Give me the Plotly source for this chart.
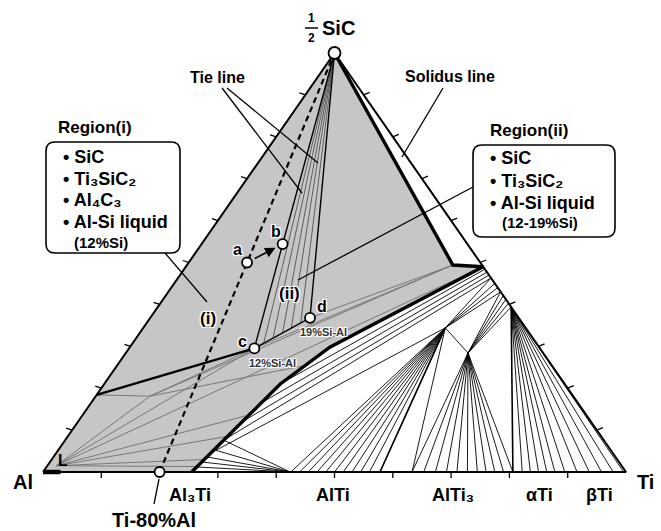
import plotly.graph_objects as go

W, H = 661, 531
X0, Y0, BASE, HGT = 43, 472, 583, 419   # Al corner (px), base length, apex height

FONT = "Liberation Sans, Arial, Helvetica, sans-serif"
GRAY_FILL = "#c6c6c6"
GRAY_LINE = "#787878"
HALO = "1px 1px 0 #fff, -1px -1px 0 #fff, 1px -1px 0 #fff, -1px 1px 0 #fff, 0 0 3px #fff"

# ---- compositions in at.% as (Ti, 1/2SiC); Al is the balance ----
apex = (0.0, 100.0)
ti80al = (20.0, 0.0)
pt_a = (10.0, 50.0)
pt_b = (13.9, 54.4)
pt_c = (21.5, 29.5)          # 12%Si-Al liquid
pt_d = (27.4, 36.8)          # 19%Si-Al liquid
liq_l = (1.5, 1.5)
al4c3_edge = (0.0, 18.4)
al4c3_node = (9.3, 18.1)
q0 = (45.6, 49.4)
p1 = (51.0, 49.0)
q1 = (51.8, 34.4)
q2 = (58.7, 28.4)
p2 = (60.6, 39.4)

# solidus: apex -> q0 -> p1 and down to Al3Ti
solidus_ti = [0.0, 45.6, 51.0, 34.3, 30.2, 27.2, 25.5]
solidus_s = [100.0, 49.4, 49.0, 29.8, 21.0, 7.6, 0.0]

# region (ii): liquid compositions between c and d tied to SiC
fan_ii_ti = [21.5, 22.5, 23.5, 24.5, 25.4, 26.4, 27.4]
fan_ii_s = [29.5, 30.7, 31.9, 33.2, 34.4, 35.6, 36.8]

# grey tie lines inside the liquid-bearing field
grey_ties = [
    (al4c3_edge, al4c3_node),
    (liq_l, al4c3_node),
    (al4c3_node, pt_c),
    (al4c3_node, (32.2, 25.4)),
    (al4c3_node, q0),
    (pt_c, q0),
    (pt_d, q0),
    (liq_l, pt_c),
    (liq_l, p1),
    (liq_l, (28.5, 13.6)),
    (liq_l, (27.4, 8.5)),
    (liq_l, (26.2, 3.0)),
    (liq_l, (25.8, 1.3)),
]

# solid-state fields
q1_bottom_ti = [42.5, 44.0, 45.5, 47.0, 48.5, 50.0, 51.5, 53.0, 54.5, 56.0, 57.8, 63.3]
q2_bottom_ti = [63.3, 65.3, 67.3, 69.2, 71.0, 72.8, 74.5, 76.0, 77.5, 79.0, 80.6]
p2_bottom_ti = [80.6, 82.2, 83.6, 85.0, 86.4, 87.8, 89.5, 91.6, 93.7, 95.8, 97.8, 99.6]
q1_edge_s = [43.0, 44.0, 45.0, 46.3]
q2_edge_s = [39.4, 40.3, 41.2, 42.1, 43.0]
al3ti_side_ti = [27.2, 28.2, 29.2, 30.2]
al3ti_side_s = [7.6, 12.0, 16.5, 21.0]
edge_side_s = [46.3, 47.0, 47.7, 48.4]
b1 = (42.4, 0.0)
b1_fan_ti = [25.8, 26.0, 26.3, 26.7, 27.2]
b1_fan_s = [1.2, 2.4, 3.6, 5.3, 7.6]
al3ti_q1 = (26.5, 4.5)

tick_vals = [10, 20, 30, 40, 50, 60, 70, 80, 90]
phase_names = ["Al\u2083Ti", "AlTi", "AlTi\u2083", "\u03b1Ti", "\u03b2Ti"]
phase_ti = [25.2, 49.7, 70.3, 85.1, 95.4]
region_i_items = ["\u2022 SiC", "\u2022 Ti\u2083SiC\u2082", "\u2022 Al\u2084C\u2083", "\u2022 Al-Si liquid"]
region_ii_items = ["\u2022 SiC", "\u2022 Ti\u2083SiC\u2082", "\u2022 Al-Si liquid"]


def tern(p):
    ti, s = p[0] / 100.0, p[1] / 100.0
    return ti + s / 2.0, s


def seg_trace(pairs, color, width, dash=None):
    xs, ys = [], []
    for a, b in pairs:
        xa, ya = tern(a)
        xb, yb = tern(b)
        xs += [xa, xb, None]
        ys += [ya, yb, None]
    return go.Scatter(x=xs, y=ys, mode="lines", hoverinfo="skip",
                      line=dict(color=color, width=width, dash=dash))


def path_trace(pts, color, width, dash=None):
    xy = [tern(p) for p in pts]
    return go.Scatter(x=[v[0] for v in xy], y=[v[1] for v in xy], mode="lines",
                      hoverinfo="skip", line=dict(color=color, width=width, dash=dash))


fig = go.Figure()

# grey liquid-bearing field
field = [(0.0, 0.0)] + list(zip(solidus_ti, solidus_s)) + [(0.0, 0.0)]
fxy = [tern(p) for p in field]
fig.add_trace(go.Scatter(x=[v[0] for v in fxy], y=[v[1] for v in fxy], mode="lines",
                         fill="toself", fillcolor=GRAY_FILL, line=dict(width=0),
                         hoverinfo="skip"))

# grey ties
fig.add_trace(seg_trace(grey_ties, GRAY_LINE, 1.0))

# region (ii) fan to SiC
mid = [(apex, (t, s)) for t, s in zip(fan_ii_ti[1:-1], fan_ii_s[1:-1])]
fig.add_trace(seg_trace(mid, "#444444", 0.8))
fig.add_trace(seg_trace([(apex, pt_c), (apex, pt_d)], "black", 1.4))

# liquid line
fig.add_trace(path_trace([al4c3_edge, pt_c], "black", 2.2))
fig.add_trace(path_trace([pt_c, pt_d], "black", 1.3))

# solid-state tie lines
ties = []
ties += [(q1, (t, 0.0)) for t in q1_bottom_ti]
ties += [(q2, (t, 0.0)) for t in q2_bottom_ti]
ties += [(p2, (t, 0.0)) for t in p2_bottom_ti[1:]]
ties += [(q1, (100 - s, s)) for s in q1_edge_s]
ties += [(q2, (100 - s, s)) for s in q2_edge_s]
ties += [(q1, q2), (al3ti_q1, q1)]
ties += [((t, s), (100 - e, e)) for t, s, e in zip(al3ti_side_ti, al3ti_side_s, edge_side_s)]
ties += [(b1, (t, s)) for t, s in zip(b1_fan_ti, b1_fan_s)]
fig.add_trace(seg_trace(ties, "black", 0.9))
fig.add_trace(seg_trace([(q1, (q1_bottom_ti[-2], 0.0)), (p2, (p2_bottom_ti[0], 0.0))], "black", 1.6))

# dashed composition line Ti-80%Al -> SiC
fig.add_trace(path_trace([ti80al, apex], "black", 2.2, dash="6px,4px"))

# triangle frame
fig.add_trace(path_trace([(0, 0), (100, 0), (0, 100), (0, 0)], "black", 2.0))
fig.add_trace(path_trace([(0, 0), (3, 0)], "black", 4.5))

# solidus boundary
fig.add_trace(path_trace(list(zip(solidus_ti, solidus_s)), "black", 3.4))

# ticks
tk_x, tk_y = [], []
for v in tick_vals:
    for base, (dpx, dpy) in (((v, 0.0), (0, 6)), ((0.0, v), (-6, -2)), ((100.0 - v, v), (6, -2.5))):
        x, y = tern(base)
        tk_x += [x, x + dpx / BASE, None]
        tk_y += [y, y - dpy / HGT, None]
fig.add_trace(go.Scatter(x=tk_x, y=tk_y, mode="lines", hoverinfo="skip",
                         line=dict(color="black", width=1.3)))

# marked compositions
for pts, size in (([pt_a, pt_b, pt_c, pt_d, ti80al], 10), ([apex], 12)):
    xy = [tern(p) for p in pts]
    fig.add_trace(go.Scatter(x=[v[0] for v in xy], y=[v[1] for v in xy], mode="markers",
                             hoverinfo="skip", cliponaxis=False,
                             marker=dict(size=size, color="white", line=dict(color="black", width=1.8))))

annotations = []


def txt(text, px, py, size, anchor="center", halo=False, color="black"):
    annotations.append(dict(x=px / W, y=1 - py / H, xref="paper", yref="paper", text=text,
                            showarrow=False, xanchor=anchor, yanchor="middle",
                            font=dict(family=FONT, size=size, color=color, weight=700,
                                      shadow=HALO if halo else "none")))


def ptxt(text, p, dx, dy, size, color="black"):
    x, y = tern(p)
    annotations.append(dict(x=x, y=y, xref="x", yref="y", text=text, showarrow=False,
                            xshift=dx, yshift=dy, xanchor="center", yanchor="middle",
                            font=dict(family=FONT, size=size, color=color, weight=700, shadow=HALO)))


# apex label 1/2 SiC
txt("1", 311.5, 18, 12)
txt("2", 311.5, 38, 12)
txt("SiC", 338, 28, 20)
txt("Al", 23, 482, 20)
txt("Ti", 645, 482, 20)
for name, t in zip(phase_names, phase_ti):
    x, y = tern((t, 0.0))
    annotations.append(dict(x=x, y=y, xref="x", yref="y", text=name, showarrow=False,
                            yshift=-23, xanchor="center", yanchor="middle",
                            font=dict(family=FONT, size=18, color="black", weight=700)))
txt("Ti-80%Al", 154, 520, 20)
txt("L", 63, 460, 16)

ptxt("a", pt_a, -10, 13, 16)
ptxt("b", pt_b, -7, 13, 16)
ptxt("c", pt_c, -12, 7, 16)
ptxt("d", pt_d, 12, 11, 16)
ptxt("12%Si-Al", pt_c, 18, -15, 11, color="#333333")
ptxt("19%Si-Al", pt_d, 13, -14, 11, color="#333333")
txt("(i)", 208, 318, 17, halo=True)
txt("(ii)", 289, 293, 17, halo=True)

txt("Tie line", 217, 78, 16)
txt("Solidus line", 450, 77, 16)
txt("Region(i)", 95, 127, 17)
txt("Region(ii)", 529, 130, 17)

for i, item in enumerate(region_i_items):
    txt(item, 61, 157 + 21.7 * i, 18, anchor="left")
txt("(12%Si)", 72, 242, 15, anchor="left")
for i, item in enumerate(region_ii_items):
    txt(item, 488, 158 + 22.5 * i, 18, anchor="left")
txt("(12-19%Si)", 500, 223, 15, anchor="left")

# arrow a -> b
xa, ya = tern(pt_a)
xb, yb = tern(pt_b)
annotations.append(dict(x=xb, y=yb, ax=xa, ay=ya, xref="x", yref="y", axref="x", ayref="y",
                        text="", showarrow=True, arrowhead=2, arrowsize=1.3, arrowwidth=1.6,
                        arrowcolor="black", standoff=8, startstandoff=7))

shapes = []


def pline(x0, y0, x1, y1, w=1.3):
    shapes.append(dict(type="line", xref="paper", yref="paper", x0=x0 / W, y0=1 - y0 / H,
                       x1=x1 / W, y1=1 - y1 / H, line=dict(color="black", width=w)))


def rbox(x0, y0, x1, y1, r=9):
    rx, ry = r / W, r / H
    a, b, c, d = x0 / W, 1 - y0 / H, x1 / W, 1 - y1 / H
    path = (f"M{a + rx},{b} L{c - rx},{b} Q{c},{b} {c},{b - ry} L{c},{d + ry} Q{c},{d} {c - rx},{d} "
            f"L{a + rx},{d} Q{a},{d} {a},{d + ry} L{a},{b - ry} Q{a},{b} {a + rx},{b} Z")
    shapes.append(dict(type="path", xref="paper", yref="paper", path=path,
                       fillcolor="white", line=dict(color="black", width=1.6)))


pline(305, 28, 318, 28, 1.5)
pline(227, 88, 318, 163)
pline(222, 88, 302, 193)
pline(443, 88, 402, 157)
pline(165, 253, 207, 302)
pline(473, 187, 298, 280)
pline(159, 479, 154, 504)
rbox(46, 142, 180, 253)
rbox(473, 145, 615, 237)

fig.update_layout(
    width=W, height=H, margin=dict(l=0, r=0, t=0, b=0, pad=0),
    paper_bgcolor="white", plot_bgcolor="white", showlegend=False,
    xaxis=dict(range=[-X0 / BASE, (W - X0) / BASE], visible=False, fixedrange=True),
    yaxis=dict(range=[(Y0 - H) / HGT, Y0 / HGT], visible=False, fixedrange=True),
    annotations=annotations, shapes=shapes,
)

fig.write_html("out.html")
